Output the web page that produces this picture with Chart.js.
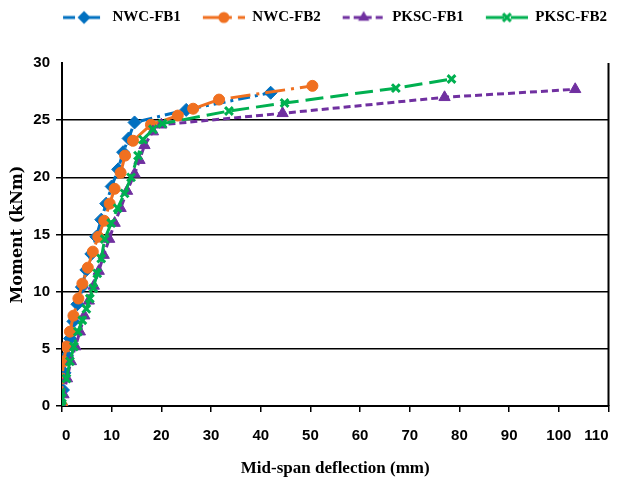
<!DOCTYPE html>
<html><head><meta charset="utf-8">
<script src="https://cdn.jsdelivr.net/npm/chart.js@4.4.1/dist/chart.umd.min.js"></script>
<style>html,body{margin:0;padding:0;background:#fff}#wrap{width:617px;height:483px}</style>
</head><body><div id="wrap"><canvas id="c" width="617" height="483"></canvas></div>
<script>
// ---- data (mid-span deflection in mm, moment in kNm) ----
const seriesNames = ['NWC-FB1', 'NWC-FB2', 'PKSC-FB1', 'PKSC-FB2'];

const nwcFb1Deflection = [0, 0.2, 0.5, 1.0, 1.6, 2.3, 3.1, 4.0, 4.9, 5.9, 6.9, 7.9, 8.9, 10.0, 11.3, 12.3, 13.4, 14.6, 25.0, 42.0];
const nwcFb1Moment     = [0, 1.4, 2.9, 4.4, 5.9, 7.4, 8.9, 10.4, 11.9, 13.3, 14.8, 16.3, 17.7, 19.2, 20.7, 22.2, 23.4, 24.8, 25.9, 27.4];

const nwcFb2Deflection = [0, 0, 0.3, 0.9, 1.6, 2.3, 3.3, 4.1, 5.2, 6.2, 7.3, 8.5, 9.6, 10.6, 11.8, 12.7, 14.3, 17.9, 23.3, 26.4, 31.6, 50.4];
const nwcFb2Moment     = [0, 2.4, 3.9, 5.2, 6.5, 7.9, 9.4, 10.7, 12.1, 13.5, 14.8, 16.2, 17.7, 19.0, 20.4, 21.9, 23.2, 24.6, 25.4, 26.0, 26.8, 28.0];

const pkscFb1Deflection = [0, 0.3, 1.0, 1.8, 2.7, 3.6, 4.5, 5.4, 6.4, 7.4, 8.4, 9.5, 10.6, 11.8, 13.1, 14.6, 15.6, 16.6, 18.3, 20.0, 44.4, 77.0, 103.3];
const pkscFb1Moment     = [0, 1.0, 2.4, 3.9, 5.2, 6.5, 7.9, 9.2, 10.5, 11.8, 13.2, 14.6, 16.0, 17.3, 18.8, 20.3, 21.5, 22.8, 24.0, 24.6, 25.6, 27.0, 27.7];

const pkscFb2Deflection = [0, 0, 0.9, 1.6, 2.4, 3.2, 4.1, 4.9, 5.6, 6.3, 7.1, 7.9, 8.6, 9.9, 11.2, 12.6, 13.9, 15.3, 16.3, 18.3, 20.2, 33.6, 44.8, 67.2, 78.4];
const pkscFb2Moment     = [0, 0.7, 2.4, 3.9, 5.2, 6.5, 7.5, 8.5, 9.4, 10.3, 11.6, 12.9, 14.6, 16.0, 17.3, 18.6, 20.0, 21.9, 23.3, 24.2, 24.7, 25.8, 26.5, 27.8, 28.6];

const xAxisTitle = 'Mid-span deflection (mm)';
const yAxisTitle = 'Moment (kNm)';

// ---- styling ----
const BLUE = '#0070C0', ORANGE = '#F07020', PURPLE = '#7030A0', GREEN = '#00B050';
const SERIF = "'Liberation Serif','Times New Roman',serif";
const WIDE_SERIF = "'DejaVu Serif','Liberation Serif',serif";
const SANS = "'Liberation Sans',Arial,sans-serif";

function pts(xs, ys) { return xs.map((x, i) => ({x: x, y: ys[i]})); }

const styles = [
  {color: BLUE,   dash: [12, 5, 3, 5], marker: 'rectRot',  radius: 6.5},
  {color: ORANGE, dash: [20, 6, 3, 6], marker: 'circle',   radius: 5.5},
  {color: PURPLE, dash: [7, 4],        marker: 'triangle', radius: 6.5},
  {color: GREEN,  dash: [18, 7],       marker: 'crossRot', radius: 5.5}
];

function drawMarker(ctx, m, x, y, r, color) {
  ctx.save();
  ctx.fillStyle = color; ctx.strokeStyle = color; ctx.setLineDash([]);
  ctx.beginPath();
  if (m === 'circle') { ctx.arc(x, y, r, 0, Math.PI * 2); ctx.fill(); }
  else if (m === 'rectRot') { ctx.moveTo(x, y - r); ctx.lineTo(x + r, y); ctx.lineTo(x, y + r); ctx.lineTo(x - r, y); ctx.closePath(); ctx.fill(); }
  else if (m === 'triangle') {
    for (let k = 0; k < 3; k++) { const a = -Math.PI / 2 + k * 2 * Math.PI / 3; const px = x + r * Math.cos(a), py = y + r * Math.sin(a); if (k) ctx.lineTo(px, py); else ctx.moveTo(px, py); }
    ctx.closePath(); ctx.fill();
  } else if (m === 'crossRot') {
    const o = r * Math.SQRT1_2; ctx.lineWidth = 3;
    ctx.moveTo(x - o, y - o); ctx.lineTo(x + o, y + o); ctx.moveTo(x + o, y - o); ctx.lineTo(x - o, y + o); ctx.stroke();
  }
  ctx.restore();
}

function makeSample(s) {
  const cv = document.createElement('canvas');
  cv.width = 54; cv.height = 16;
  const ctx = cv.getContext('2d');
  ctx.strokeStyle = s.color; ctx.lineWidth = 3; ctx.setLineDash(s.dash);
  ctx.beginPath(); ctx.moveTo(12, 8); ctx.lineTo(54, 8); ctx.stroke();
  drawMarker(ctx, s.marker, 33, 8, s.radius, s.color);
  return cv;
}
const samples = styles.map(makeSample);

const seriesData = [
  pts(nwcFb1Deflection, nwcFb1Moment),
  pts(nwcFb2Deflection, nwcFb2Moment),
  pts(pkscFb1Deflection, pkscFb1Moment),
  pts(pkscFb2Deflection, pkscFb2Moment)
];

const datasets = seriesData.map((d, i) => ({
  label: seriesNames[i],
  data: d,
  borderColor: styles[i].color,
  backgroundColor: styles[i].color,
  borderWidth: 3,
  borderDash: styles[i].dash,
  pointStyle: styles[i].marker,
  pointRadius: styles[i].radius,
  pointBackgroundColor: styles[i].color,
  pointBorderColor: styles[i].color,
  pointBorderWidth: styles[i].marker === 'crossRot' ? 3 : 1,
  tension: 0,
  fill: false,
  order: 4 - i
}));

const bgPlugin = {
  id: 'bg',
  beforeDraw(chart) { const c = chart.ctx; c.save(); c.fillStyle = '#fff'; c.fillRect(0, 0, chart.width, chart.height); c.restore(); }
};
const rightBorder = {
  id: 'rightBorder',
  beforeDatasetsDraw(chart) {
    const {ctx, chartArea} = chart;
    ctx.save(); ctx.strokeStyle = '#000'; ctx.lineWidth = 2;
    ctx.beginPath(); ctx.moveTo(chartArea.right, chartArea.top); ctx.lineTo(chartArea.right, chartArea.bottom); ctx.stroke();
    ctx.restore();
  }
};

new Chart(document.getElementById('c'), {
  type: 'line',
  data: {datasets: datasets},
  plugins: [bgPlugin, rightBorder],
  options: {
    responsive: false,
    devicePixelRatio: 1,
    animation: false,
    layout: {padding: 0},
    plugins: {
      tooltip: {enabled: false},
      // empty spacer placed between the legend and the plot area
      title: {display: true, text: '', position: 'top', weight: 500, font: {size: 1}, padding: {top: 0, bottom: 0}},
      legend: {
        position: 'top', align: 'end', weight: 1000,
        labels: {
          usePointStyle: true, pointStyleWidth: 54, boxHeight: 15, padding: 10,
          color: '#000', font: {family: SERIF, weight: 'bold', size: 15},
          generateLabels(chart) {
            return chart.data.datasets.map((ds, i) => ({
              text: ds.label, pointStyle: samples[i], fillStyle: ds.borderColor,
              strokeStyle: ds.borderColor, lineWidth: 0, hidden: false, datasetIndex: i, fontColor: '#000'
            }));
          }
        }
      }
    },
    scales: {
      x: {
        type: 'linear', min: 0, max: 110,
        afterFit(s) { s.height = 77; s.paddingRight = 5; s.paddingLeft = 0; },
        ticks: {stepSize: 10, align: 'inner', padding: 15, color: '#000', maxRotation: 0, autoSkip: false,
                font: {family: SANS, weight: 'bold', size: 15}},
        grid: {drawOnChartArea: false, drawTicks: true, tickLength: 6, color: '#000', lineWidth: 1.5},
        border: {color: '#000', width: 2},
        title: {display: true, text: xAxisTitle, color: '#000', font: {family: SERIF, weight: 'bold', size: 17}, padding: {top: 0, bottom: 4}}
      },
      y: {
        min: 0, max: 30,
        afterFit(s) { s.width = 62; s.paddingTop = 0; s.paddingBottom = 0; },
        ticks: {stepSize: 5, padding: 6, color: '#000', font: {family: SANS, weight: 'bold', size: 15}},
        grid: {color: (c) => (c.tick && c.tick.value === 30) ? 'rgba(0,0,0,0)' : '#000', lineWidth: 1.5, tickLength: 6},
        border: {color: '#000', width: 2},
        title: {display: true, text: yAxisTitle, color: '#000', font: {family: WIDE_SERIF, weight: 'bold', size: 16}, padding: {top: 8, bottom: 0}}
      }
    }
  },
});
// adjust spacer so that the plot area starts at the reference's top edge
(function () {
  const ch = Chart.getChart('c');
  const need = 63 - ch.chartArea.top;
  if (need !== 0) {
    ch.options.plugins.title.padding = {top: 0, bottom: Math.max(0, need)};
    ch.update('none');
  }
})();
</script>
</body></html>
